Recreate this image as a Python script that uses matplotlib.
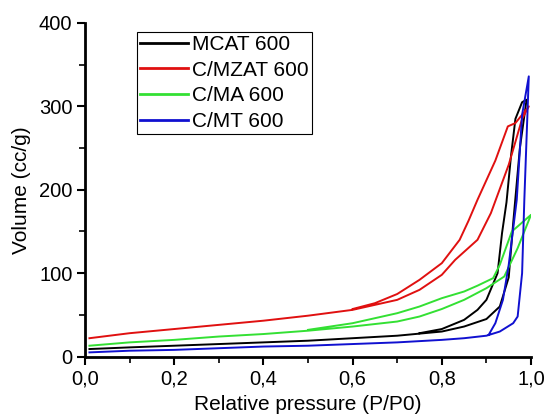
import numpy as np
import matplotlib.pyplot as plt
from matplotlib.ticker import MultipleLocator, FuncFormatter

plt.rcParams['font.family'] = ['Liberation Sans', 'DejaVu Sans']

# adsorption (up) and desorption (back down) branches, P/P0 vs volume (cc/g)
mcat_ads_x = [0.01, 0.1, 0.2, 0.3, 0.4, 0.5, 0.6, 0.7, 0.8, 0.85, 0.9, 0.93, 0.95, 0.96, 0.975, 0.99]
mcat_ads_y = [9, 11, 13, 15, 17, 19, 22, 25, 30, 36, 45, 60, 95, 160, 250, 308]
mcat_des_x = [0.99, 0.98, 0.965, 0.955, 0.945, 0.935, 0.925, 0.9, 0.88, 0.85, 0.8, 0.75]
mcat_des_y = [308, 305, 285, 240, 185, 148, 100, 68, 56, 44, 33, 28]

mzat_ads_x = [0.01, 0.1, 0.2, 0.3, 0.4, 0.5, 0.6, 0.7, 0.75, 0.8, 0.83, 0.88, 0.91, 0.95, 0.98, 0.995]
mzat_ads_y = [22, 28, 33, 38, 43, 49, 56, 68, 80, 98, 116, 140, 172, 230, 285, 300]
mzat_des_x = [0.995, 0.965, 0.948, 0.92, 0.88, 0.86, 0.84, 0.8, 0.75, 0.7, 0.65, 0.6]
mzat_des_y = [300, 280, 276, 235, 188, 163, 140, 112, 92, 75, 64, 57]

ma_ads_x = [0.01, 0.1, 0.2, 0.3, 0.4, 0.5, 0.6, 0.7, 0.75, 0.8, 0.85, 0.9, 0.94, 0.97, 1.0]
ma_ads_y = [13, 17, 20, 24, 27, 31, 36, 42, 48, 57, 68, 82, 96, 130, 170]
ma_des_x = [1.0, 0.957, 0.93, 0.915, 0.88, 0.85, 0.8, 0.75, 0.7, 0.6, 0.5]
ma_des_y = [170, 150, 110, 94, 85, 78, 70, 60, 52, 40, 32]

mt_ads_x = [0.01, 0.1, 0.2, 0.3, 0.4, 0.5, 0.6, 0.7, 0.8, 0.85, 0.9, 0.93, 0.96, 0.97, 0.98, 0.985, 0.995]
mt_ads_y = [5, 7, 8, 10, 12, 13, 15, 17, 20, 22, 25, 30, 40, 48, 100, 188, 336]
mt_des_x = [0.995, 0.98, 0.968, 0.95, 0.937, 0.92, 0.905]
mt_des_y = [336, 290, 188, 110, 68, 40, 26]

labels = ['MCAT 600', 'C/MZAT 600', 'C/MA 600', 'C/MT 600']
colors = ['black', '#e01010', '#33e033', '#1010d0']
series = [
    (mcat_ads_x + mcat_des_x, mcat_ads_y + mcat_des_y),
    (mzat_ads_x + mzat_des_x, mzat_ads_y + mzat_des_y),
    (ma_ads_x + ma_des_x, ma_ads_y + ma_des_y),
    (mt_ads_x + mt_des_x, mt_ads_y + mt_des_y),
]

fig = plt.figure(figsize=(5.5, 4.18), dpi=100)
ax = fig.add_axes([0.1545, 0.147, 0.811, 0.798])

for (xs, ys), lab, c in zip(series, labels, colors):
    ax.plot(xs, ys, color=c, lw=1.4, label=lab)

ax.set_xlim(0, 1.0)
ax.set_ylim(0, 400)
ax.xaxis.set_major_locator(MultipleLocator(0.2))
ax.xaxis.set_minor_locator(MultipleLocator(0.1))
ax.yaxis.set_major_locator(MultipleLocator(100))
ax.yaxis.set_minor_locator(MultipleLocator(50))
ax.xaxis.set_major_formatter(FuncFormatter(lambda v, p: f'{v:.1f}'.replace('.', ',')))

for s in ['top', 'right']:
    ax.spines[s].set_visible(False)
for s in ['left', 'bottom']:
    ax.spines[s].set_linewidth(2)
ax.tick_params(which='major', direction='out', length=6, width=1.5, labelsize=14.5, pad=3)
ax.tick_params(which='minor', direction='out', length=4, width=1.2)

ax.set_xlabel('Relative pressure (P/P0)', fontsize=15, labelpad=5)
ax.set_ylabel('Volume (cc/g)', fontsize=15, labelpad=6)

leg = ax.legend(loc='upper left', bbox_to_anchor=(0.117, 0.973), fontsize=15,
                handlelength=2.3, handletextpad=0.2, borderpad=0.15,
                labelspacing=0.32, fancybox=False, framealpha=1, borderaxespad=0)
leg.get_frame().set_edgecolor('black')
leg.get_frame().set_linewidth(0.8)
for line in leg.get_lines():
    line.set_linewidth(2)

fig.savefig('out.png', dpi=100)
